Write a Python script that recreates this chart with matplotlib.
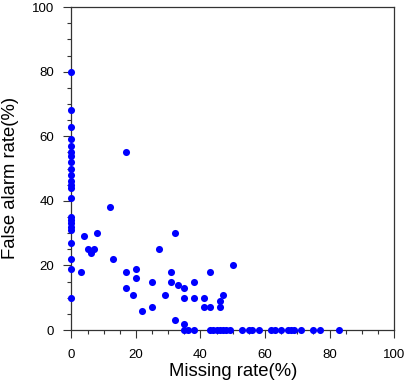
import matplotlib
matplotlib.use("Agg")
import matplotlib.pyplot as plt
from matplotlib.ticker import MultipleLocator

plt.rcParams['font.family'] = ['Liberation Sans', 'DejaVu Sans']

# points on the x=0 line (missing rate 0)
fa_zero_miss = [80, 68, 63, 59, 57, 55, 54, 52, 50, 48, 46, 45, 44, 41,
                35, 34, 33, 32, 31, 27, 22, 19, 10]

# scattered points (missing rate, false alarm rate)
miss_mid = [12, 4, 8, 5, 6, 7, 13, 3, 17, 32, 27, 20, 17, 31, 20, 25, 31,
            33, 35, 17, 19, 29, 35, 22, 25, 32, 35, 50, 43, 38, 47, 38, 41,
            46, 41, 43, 46]
fa_mid = [38, 29, 30, 25, 24, 25, 22, 18, 55, 30, 25, 19, 18, 18, 16, 15, 15,
          14, 13, 13, 11, 11, 10, 6, 7, 3, 2, 20, 18, 15, 11, 10, 10,
          9, 7, 7, 7]

# points with zero false alarm rate
miss_zero_fa = [35, 36, 38, 43, 44, 45, 46, 47, 48, 49, 53, 55, 56, 58, 62,
                63, 65, 67, 68, 69, 71, 75, 77, 83]

miss = [0] * len(fa_zero_miss) + miss_mid + miss_zero_fa
fa = fa_zero_miss + fa_mid + [0] * len(miss_zero_fa)

fig = plt.figure(figsize=(4.08, 3.92), dpi=100)
ax = fig.add_axes([0.175, 0.158, 0.791, 0.824])
ax.scatter(miss, fa, s=26, color='#0000ff', zorder=3, clip_on=False, linewidths=0)

ax.set_xlim(0, 100)
ax.set_ylim(0, 100)
ax.xaxis.set_major_locator(MultipleLocator(20))
ax.yaxis.set_major_locator(MultipleLocator(20))
ax.xaxis.set_minor_locator(MultipleLocator(5))
ax.yaxis.set_minor_locator(MultipleLocator(5))
ax.tick_params(which='major', direction='out', length=6, width=0.8,
               labelsize=9.5, color='#333333')
ax.tick_params(which='minor', direction='out', length=3, width=0.8,
               color='#333333')
ax.tick_params(axis='x', which='major', pad=7.5)
ax.tick_params(axis='y', which='major', pad=6.5)
for s in ax.spines.values():
    s.set_linewidth(0.9)
    s.set_color('#333333')

ax.set_xlabel("Missing rate(%)", fontsize=13.3)
ax.set_ylabel("False alarm rate(%)", fontsize=13.3)
ax.xaxis.set_label_coords(0.5, -0.102)
ax.yaxis.set_label_coords(-0.162, 0.472)

fig.savefig("out.png", dpi=100)
